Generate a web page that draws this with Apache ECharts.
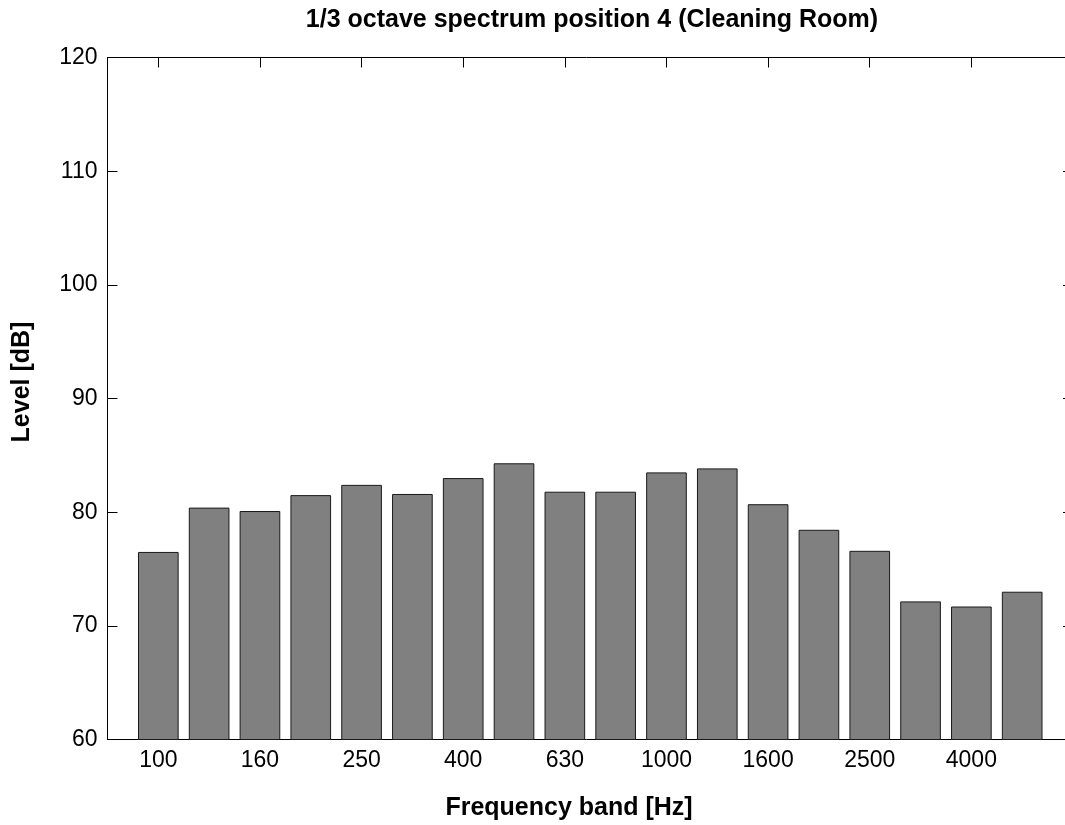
<!DOCTYPE html>
<html><head><meta charset="utf-8">
<script src="https://cdn.jsdelivr.net/npm/echarts@6/dist/echarts.min.js"></script>
<style>html,body{margin:0;padding:0;background:#fff}#c{width:1065px;height:825px}</style>
</head><body><div id="c"></div><script>
const bands = ['100','125','160','200','250','315','400','500','630','800','1000','1250','1600','2000','2500','3150','4000','5000'];
const levels = [76.5,80.4,80.1,81.5,82.4,81.6,83.0,84.3,81.8,81.8,83.5,83.85,80.7,78.45,76.6,72.15,71.7,73.0];
const tickBands = ['100','160','250','400','630','1000','1600','2500','4000'];
const yMin = 60, yMax = 120, yStep = 10;
const titleText = '1/3 octave spectrum position 4 (Cleaning Room)';
const xTitle = 'Frequency band [Hz]';
const yTitle = 'Level [dB]';

const FONT = "'Liberation Sans', Arial, sans-serif";
const gridBox = {left: 107.5, top: 57.5, width: 965.5, height: 682};
const xMin = 0, xMax = bands.length + 1;
const barW = gridBox.width / (xMax - xMin) * 0.8;

const barData = bands.map((b, i) => [i + 1, levels[i]]);
const tickPos = tickBands.map(b => bands.indexOf(b) + 1);

const chart = echarts.init(document.getElementById('c'), null, {renderer: 'canvas'});
const axisLineStyle = {color: '#000', width: 1};
chart.setOption({
  animation: false,
  backgroundColor: '#fff',
  grid: Object.assign({containLabel: false, outerBoundsMode: 'none'}, gridBox),
  xAxis: [{
    type: 'value', min: xMin, max: xMax, position: 'bottom',
    splitLine: {show: false},
    axisLine: {show: true, lineStyle: axisLineStyle, onZero: false},
    axisTick: {show: true, inside: true, length: 10, lineStyle: axisLineStyle, customValues: tickPos},
    axisLabel: {show: true, customValues: tickPos, margin: 10, color: '#000', fontSize: 23, fontFamily: FONT,
      formatter: v => bands[Math.round(v) - 1] || ''}
  }, {
    type: 'value', min: xMin, max: xMax, position: 'top',
    splitLine: {show: false},
    axisLine: {show: true, lineStyle: axisLineStyle, onZero: false},
    axisTick: {show: true, inside: true, length: 10, lineStyle: axisLineStyle, customValues: tickPos},
    axisLabel: {show: false}
  }],
  yAxis: [{
    type: 'value', min: yMin, max: yMax, interval: yStep, position: 'left',
    splitLine: {show: false},
    axisLine: {show: true, lineStyle: axisLineStyle, onZero: false},
    axisTick: {show: true, inside: true, length: 10, lineStyle: axisLineStyle},
    axisLabel: {show: true, margin: 10, color: '#000', fontSize: 23, fontFamily: FONT}
  }, {
    type: 'value', min: yMin, max: yMax, interval: yStep, position: 'right',
    splitLine: {show: false},
    axisLine: {show: true, lineStyle: axisLineStyle, onZero: false},
    axisTick: {show: true, inside: true, length: 10, lineStyle: axisLineStyle},
    axisLabel: {show: false}
  }],
  series: [{
    type: 'bar', xAxisIndex: 0, yAxisIndex: 0,
    data: barData, barWidth: barW,
    itemStyle: {color: '#808080', borderColor: '#1a1a1a', borderWidth: 1},
    z: 1
  }],
  graphic: [
    {type: 'text', x: 592, y: 20, style: {text: titleText, font: "bold 25px " + FONT, fill: '#000',
      textAlign: 'center', textVerticalAlign: 'middle', align: 'center', verticalAlign: 'middle'}},
    {type: 'text', x: 569, y: 808, style: {text: xTitle, font: "bold 25px " + FONT, fill: '#000',
      textAlign: 'center', textVerticalAlign: 'middle', align: 'center', verticalAlign: 'middle'}},
    {type: 'text', x: 22.5, y: 382, rotation: Math.PI / 2, style: {text: yTitle, font: "bold 25px " + FONT, fill: '#000',
      textAlign: 'center', textVerticalAlign: 'middle', align: 'center', verticalAlign: 'middle'}}
  ]
});
</script></body></html>
